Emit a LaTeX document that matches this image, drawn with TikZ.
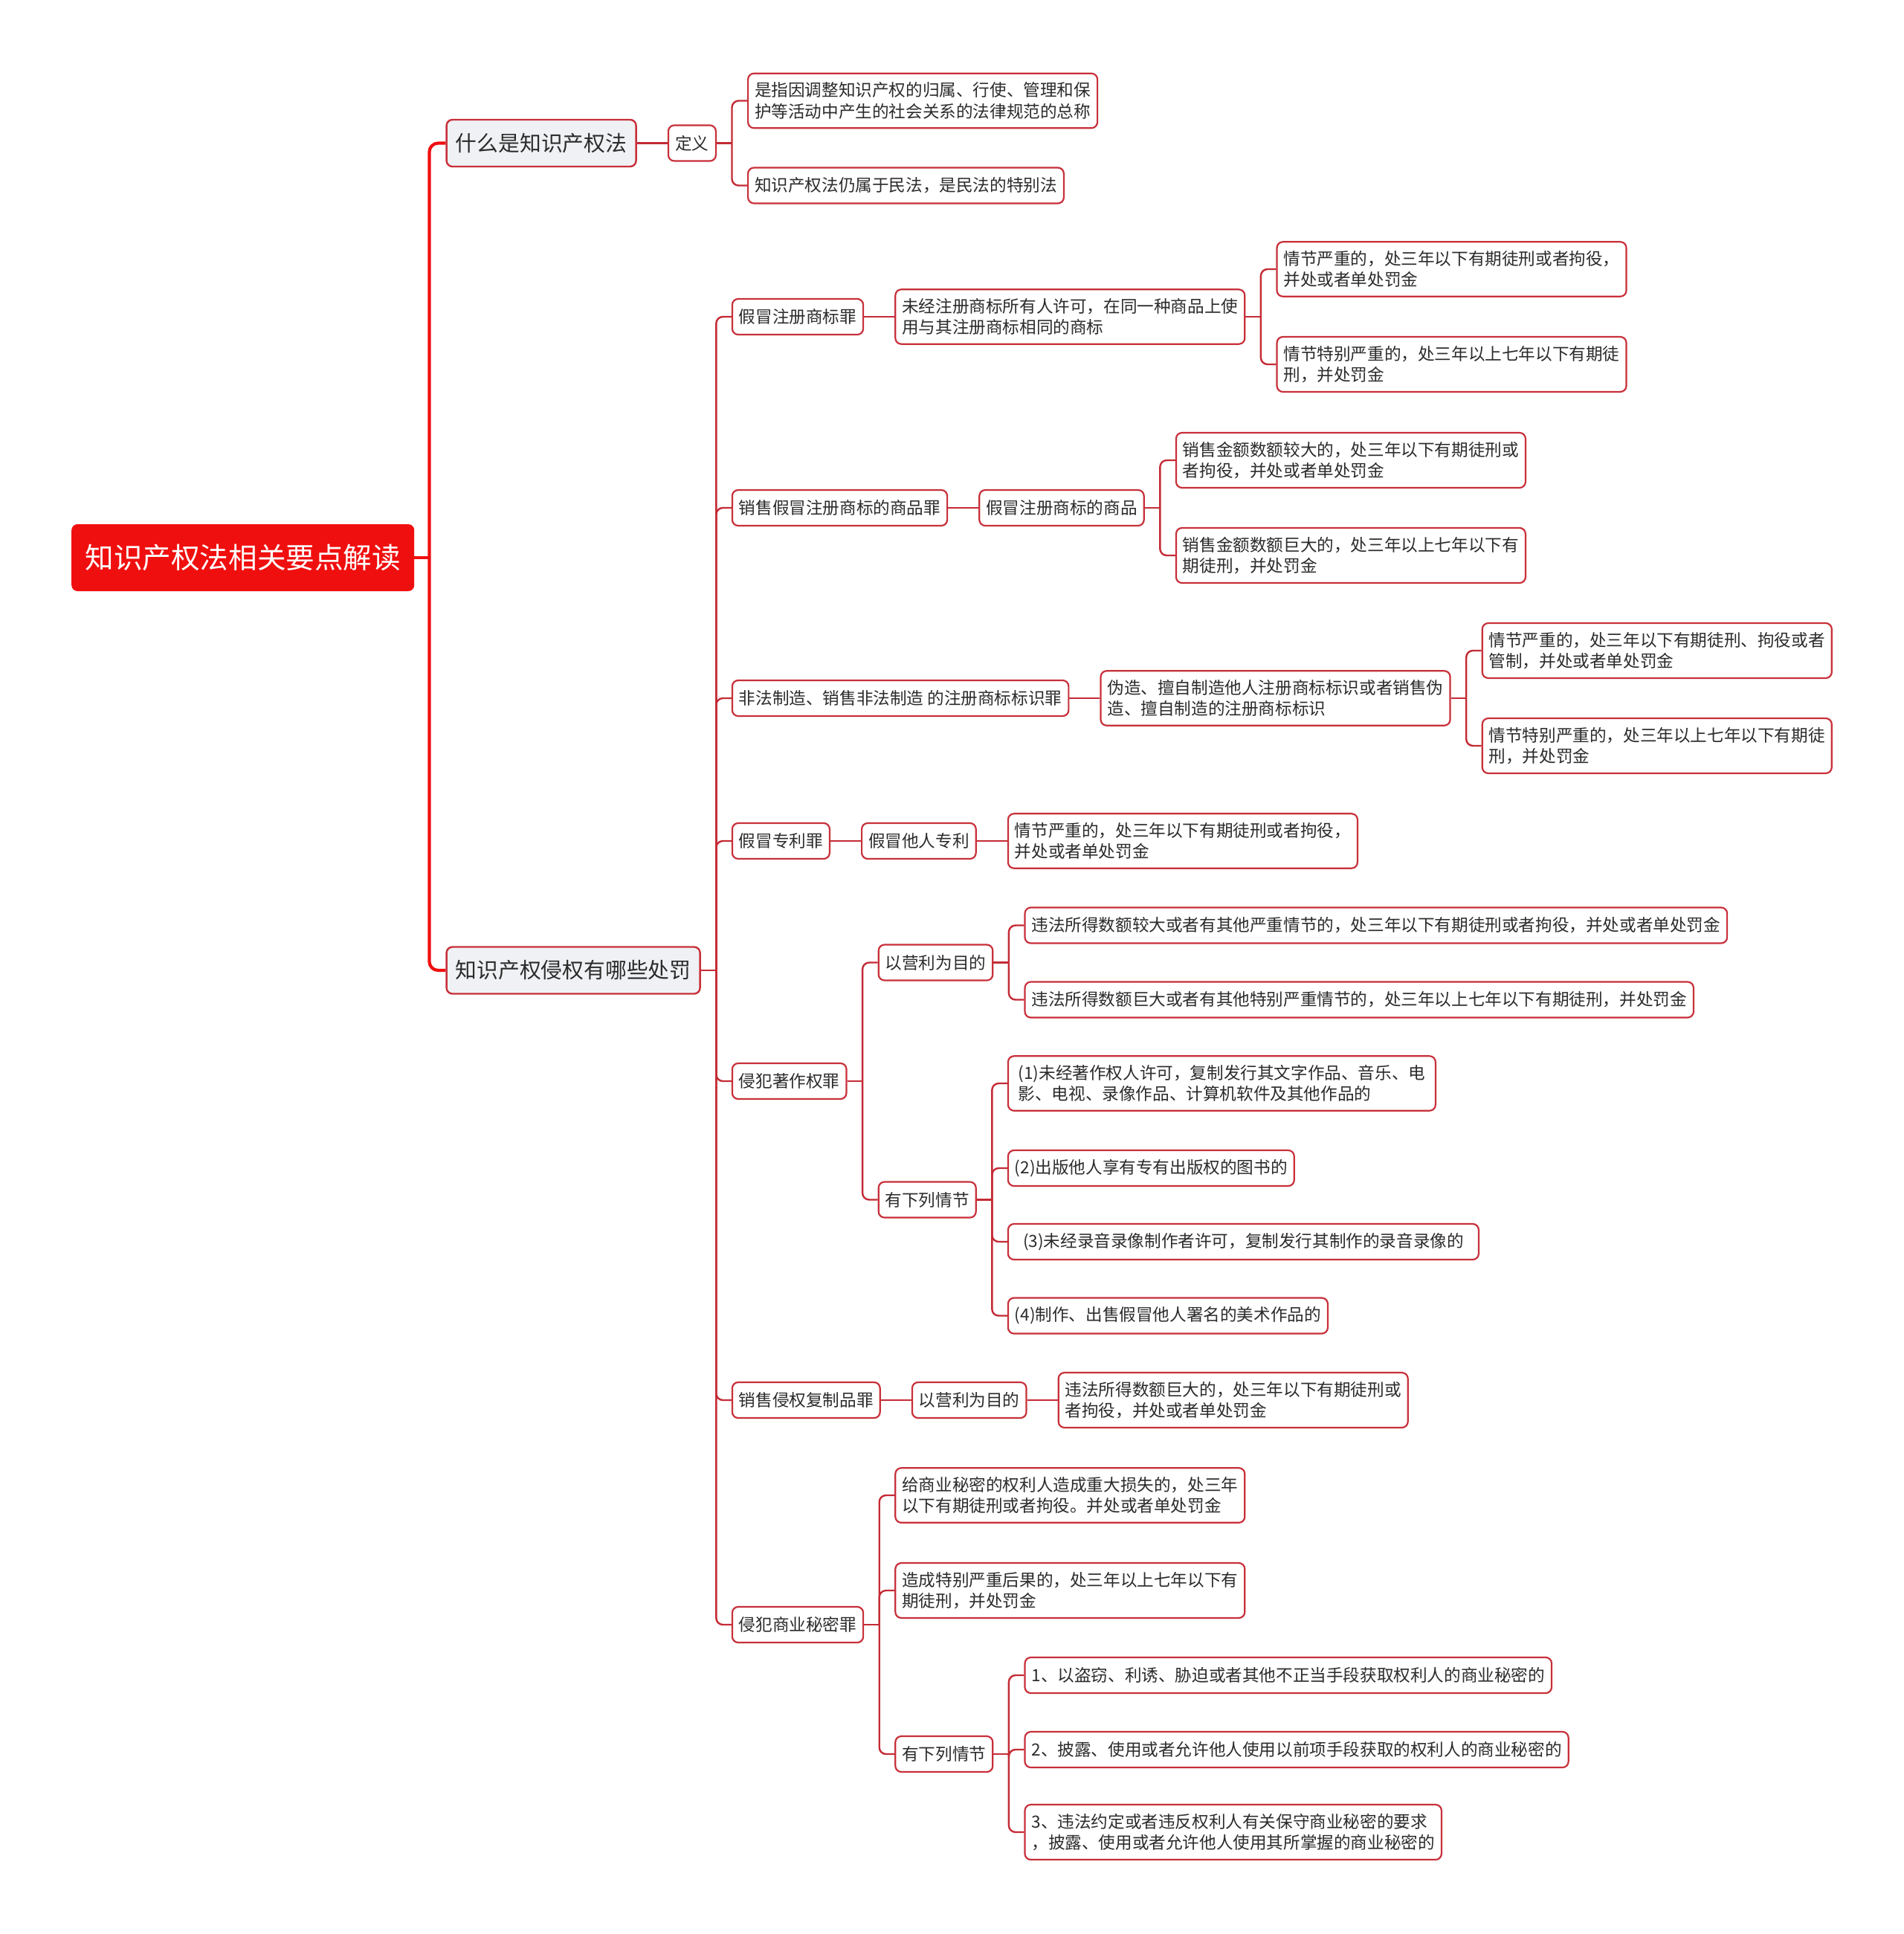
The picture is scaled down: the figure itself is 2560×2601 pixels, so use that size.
\documentclass[tikz,border=0pt]{standalone}
\usepackage{fontspec}
\setmainfont{Noto Sans CJK SC}
\usetikzlibrary{positioning,backgrounds}
\definecolor{rootred}{HTML}{F00F0F}
\definecolor{linkred}{HTML}{C42B35}
\definecolor{boxred}{HTML}{C8303A}
\definecolor{lonefill}{HTML}{EFF1F4}
\definecolor{txt}{HTML}{2B2B2B}
\newcommand\mmfork[2]{%
  \draw[link] (#1.east) -- ++(20.5,0) coordinate (#1-t);
  \foreach \kid in {#2}{\draw[link] (#1-t) |- (\kid.west);}}
\newcommand\mmline[2]{\draw[link] (#1.east) -- (#2.west);}
\begin{document}
\begin{tikzpicture}[x=1pt,y=1pt,
 base/.style={rounded corners=8pt, align=left, anchor=west, text=txt},
 box/.style={base, draw=boxred, line width=2.2pt, fill=white, inner xsep=9pt, inner ysep=12pt, minimum height=48pt, font=\fontsize{22.6}{28.4}\selectfont},
 lone/.style={base, draw=boxred, line width=2.4pt, fill=lonefill, inner xsep=12pt, minimum height=63pt, font=\fontsize{28.8}{36}\selectfont},
 rootbox/.style={base, fill=rootred, text=white, inner xsep=16pt, minimum height=90pt, font=\fontsize{38.6}{46}\selectfont},
 link/.style={draw=linkred, line width=2.4pt, rounded corners=9pt},
 mainlink/.style={draw=rootred, line width=4.2pt, rounded corners=12pt},
]
\useasboundingbox (0,0) rectangle (2560,-2601);

\node[rootbox, minimum width=461pt] (root) at (96,-750) {知识产权法相关要点解读};

\node[lone, minimum width=255pt, right=42pt of root, yshift=557.5pt] (a) {什么是知识产权法};
\node[lone, minimum width=341pt, right=42pt of root, yshift=-555pt] (b) {知识产权侵权有哪些处罚};

% 什么是知识产权法
\node[box, minimum width=64pt, right=41pt of a] (a1) {定义};
\node[box, minimum width=466pt, right=41pt of a1, yshift=57pt] (a11) {是指因调整知识产权的归属、行使、管理和保\\护等活动中产生的社会关系的法律规范的总称};
\node[box, minimum width=421pt, right=41pt of a1, yshift=-57pt] (a12) {知识产权法仍属于民法，是民法的特别法};

% 1
\node[box, minimum width=175pt, right=41pt of b, yshift=879pt] (b1) {假冒注册商标罪};
\node[box, minimum width=464pt, right=41pt of b1] (b11) {未经注册商标所有人许可，在同一种商品上使\\用与其注册商标相同的商标};
\node[box, minimum width=464pt, right=41pt of b11, yshift=64pt] (b111) {情节严重的，处三年以下有期徒刑或者拘役，\\并处或者单处罚金};
\node[box, minimum width=464pt, right=41pt of b11, yshift=-64pt] (b112) {情节特别严重的，处三年以上七年以下有期徒\\刑，并处罚金};

% 2
\node[box, minimum width=286pt, right=41pt of b, yshift=622pt] (b2) {销售假冒注册商标的商品罪};
\node[box, minimum width=220pt, right=41pt of b2] (b21) {假冒注册商标的商品};
\node[box, minimum width=464pt, right=41pt of b21, yshift=64pt] (b211) {销售金额数额较大的，处三年以下有期徒刑或\\者拘役，并处或者单处罚金};
\node[box, minimum width=464pt, right=41pt of b21, yshift=-64pt] (b212) {销售金额数额巨大的，处三年以上七年以下有\\期徒刑，并处罚金};

% 3
\node[box, minimum width=450pt, right=41pt of b, yshift=366pt] (b3) {非法制造、销售非法制造 的注册商标标识罪};
\node[box, minimum width=464pt, right=41pt of b3] (b31) {伪造、擅自制造他人注册商标标识或者销售伪\\造、擅自制造的注册商标标识};
\node[box, minimum width=465pt, right=41pt of b31, yshift=64pt] (b311) {情节严重的，处三年以下有期徒刑、拘役或者\\管制，并处或者单处罚金};
\node[box, minimum width=465pt, right=41pt of b31, yshift=-64pt] (b312) {情节特别严重的，处三年以上七年以下有期徒\\刑，并处罚金};

% 4
\node[box, minimum width=130pt, right=41pt of b, yshift=174pt] (b4) {假冒专利罪};
\node[box, minimum width=153pt, right=41pt of b4] (b41) {假冒他人专利};
\node[box, minimum width=463pt, right=41pt of b41] (b411) {情节严重的，处三年以下有期徒刑或者拘役，\\并处或者单处罚金};

% 5
\node[box, minimum width=152pt, right=41pt of b, yshift=-149pt] (b5) {侵犯著作权罪};
\node[box, minimum width=152pt, right=41pt of b5, yshift=159.5pt] (b51) {以营利为目的};
\node[box, minimum width=941pt, right=41pt of b51, yshift=50pt] (b511) {违法所得数额较大或者有其他严重情节的，处三年以下有期徒刑或者拘役，并处或者单处罚金};
\node[box, minimum width=890pt, right=41pt of b51, yshift=-50pt] (b512) {违法所得数额巨大或者有其他特别严重情节的，处三年以上七年以下有期徒刑，并处罚金};
\node[box, minimum width=130pt, right=41pt of b5, yshift=-159.5pt] (b52) {有下列情节};
\node[box, minimum width=575pt, right=41pt of b52, yshift=156.5pt] (b521) {(1)未经著作权人许可，复制发行其文字作品、音乐、电\\影、电视、录像作品、计算机软件及其他作品的};
\node[box, minimum width=382pt, right=41pt of b52, yshift=42.5pt] (b522) {(2)出版他人享有专有出版权的图书的};
\node[box, minimum width=633pt, right=41pt of b52, yshift=-56.5pt] (b523) {(3)未经录音录像制作者许可，复制发行其制作的录音录像的};
\node[box, minimum width=426pt, right=41pt of b52, yshift=-156pt] (b524) {(4)制作、出售假冒他人署名的美术作品的};

% 6
\node[box, minimum width=196pt, right=41pt of b, yshift=-578pt] (b6) {销售侵权复制品罪};
\node[box, minimum width=152pt, right=41pt of b6] (b61) {以营利为目的};
\node[box, minimum width=465pt, right=41pt of b61] (b611) {违法所得数额巨大的，处三年以下有期徒刑或\\者拘役，并处或者单处罚金};

% 7
\node[box, minimum width=174pt, right=41pt of b, yshift=-880pt] (b7) {侵犯商业秘密罪};
\node[box, minimum width=464pt, right=41pt of b7, yshift=174pt] (b71) {给商业秘密的权利人造成重大损失的，处三年\\以下有期徒刑或者拘役。并处或者单处罚金};
\node[box, minimum width=464pt, right=41pt of b7, yshift=46pt] (b72) {造成特别严重后果的，处三年以上七年以下有\\期徒刑，并处罚金};
\node[box, minimum width=130pt, right=41pt of b7, yshift=-174pt] (b73) {有下列情节};
\node[box, minimum width=708pt, right=41pt of b73, yshift=106pt] (b731) {1、以盗窃、利诱、胁迫或者其他不正当手段获取权利人的商业秘密的};
\node[box, minimum width=730pt, right=41pt of b73, yshift=6pt] (b732) {2、披露、使用或者允许他人使用以前项手段获取的权利人的商业秘密的};
\node[box, minimum width=557pt, right=41pt of b73, yshift=-105pt] (b733) {3、违法约定或者违反权利人有关保守商业秘密的要求\\，披露、使用或者允许他人使用其所掌握的商业秘密的};

\begin{scope}[on background layer]
\draw[mainlink] (root.east) -- ++(20,0) coordinate (root-t);
\draw[mainlink] (root-t) |- (a.west);
\draw[mainlink] (root-t) |- (b.west);
\mmline{a}{a1}
\mmfork{a1}{a11,a12}
\mmfork{b}{b1,b2,b3,b4,b5,b6,b7}
\mmline{b1}{b11}
\mmfork{b11}{b111,b112}
\mmline{b2}{b21}
\mmfork{b21}{b211,b212}
\mmline{b3}{b31}
\mmfork{b31}{b311,b312}
\mmline{b4}{b41}
\mmline{b41}{b411}
\mmfork{b5}{b51,b52}
\mmfork{b51}{b511,b512}
\mmfork{b52}{b521,b522,b523,b524}
\mmline{b6}{b61}
\mmline{b61}{b611}
\mmfork{b7}{b71,b72,b73}
\mmfork{b73}{b731,b732,b733}
\end{scope}
\end{tikzpicture}
\end{document}
